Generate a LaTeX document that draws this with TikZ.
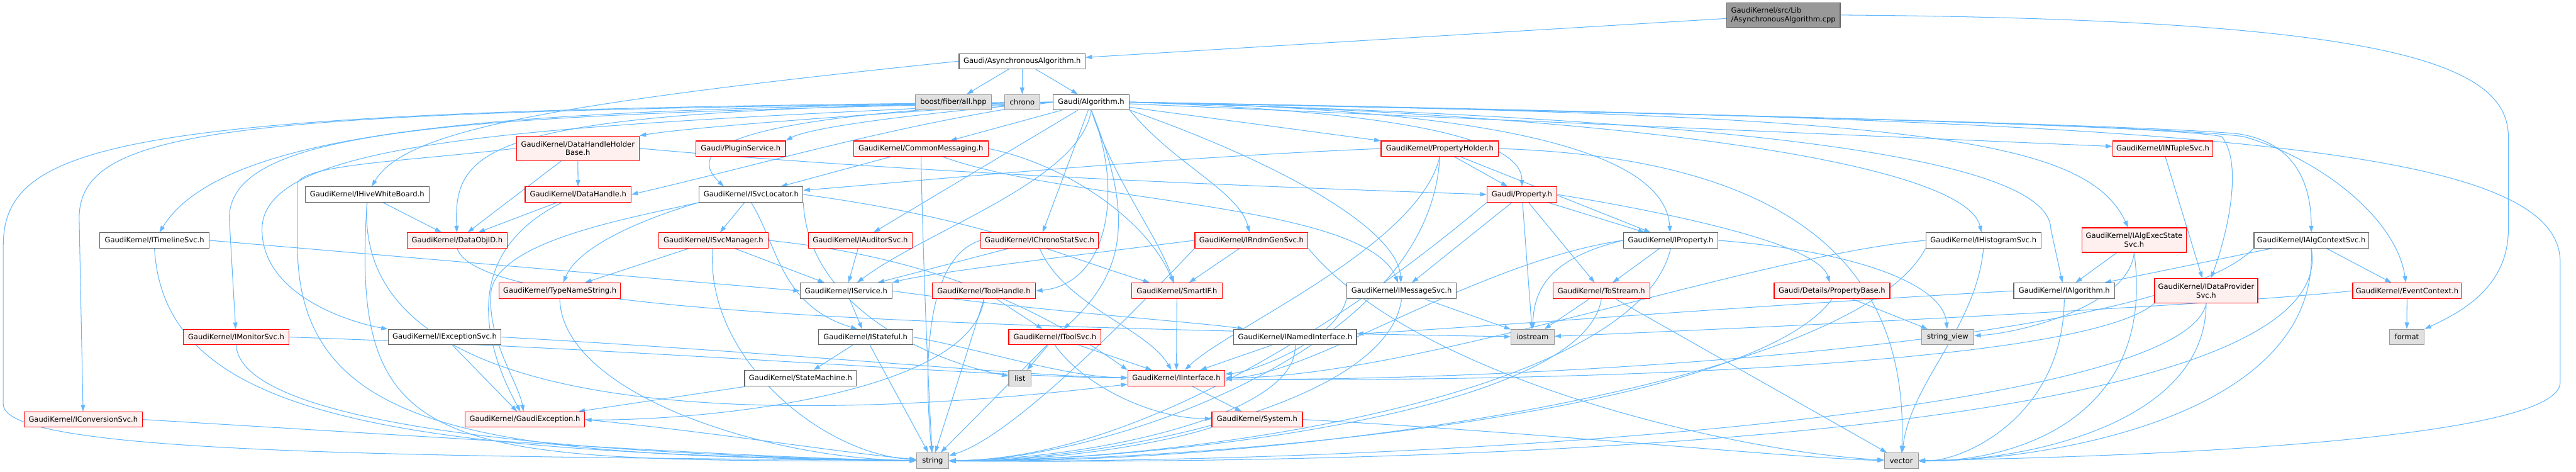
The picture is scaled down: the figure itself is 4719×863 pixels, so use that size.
\documentclass[tikz,border=0pt]{standalone}
\usepackage{fontspec}
\setmainfont{DejaVu Sans}
\usetikzlibrary{arrows.meta}
\definecolor{edgeblue}{HTML}{63B8FF}
\definecolor{redfill}{HTML}{FFF0F0}
\definecolor{greyforty}{HTML}{666666}
\definecolor{greysixty}{HTML}{999999}
\definecolor{extfill}{HTML}{E0E0E0}
\pgfdeclarelayer{edgelayer}
\pgfsetlayers{edgelayer,main}
\tikzset{
 gbox/.style={rectangle, inner sep=0pt, line width=1.3pt, align=center, text=black},
 rnode/.style={gbox, draw=red, fill=redfill},
 wnode/.style={gbox, draw=greyforty, fill=white},
 xnode/.style={gbox, draw=greysixty, fill=extfill},
 rootnode/.style={gbox, draw=greyforty, fill=greysixty, align=left},
 edg/.style={draw=edgeblue, line width=1.2pt, -{Triangle[length=12pt,width=8pt]}},
}
\newcommand\gnd[6]{\node[#1, minimum width=#2pt, minimum height=#3pt] (#4) at (#5) {#6};}
\begin{document}
\begin{tikzpicture}[x=1pt, y=1pt, font=\fontsize{13.3}{16}\selectfont]
\useasboundingbox (0,0) rectangle (4719,-863);
\gnd{rootnode}{208}{45}{cpp}{3267,-27.5}{GaudiKernel/src/Lib\\/AsynchronousAlgorithm.cpp}
\gnd{wnode}{231}{28}{aah}{1872.5,-112}{Gaudi/AsynchronousAlgorithm.h}
\gnd{xnode}{139}{28}{boost}{1746.5,-187}{boost/fiber/all.hpp}
\gnd{xnode}{65}{28}{chrono}{1872.5,-187}{chrono}
\gnd{wnode}{140}{28}{alg}{1999,-187}{Gaudi/Algorithm.h}
\gnd{rnode}{225}{45}{dhhb}{1058.5,-271.5}{GaudiKernel/DataHandleHolder\\Base.h}
\gnd{rnode}{164}{28}{plugin}{1357,-272}{Gaudi/PluginService.h}
\gnd{rnode}{246}{28}{cmsg}{1687,-272}{GaudiKernel/CommonMessaging.h}
\gnd{rnode}{215}{28}{pholder}{2637.5,-272}{GaudiKernel/PropertyHolder.h}
\gnd{rnode}{184}{28}{ntuple}{3962,-272}{GaudiKernel/INTupleSvc.h}
\gnd{wnode}{227}{28}{hwb}{672.5,-356}{GaudiKernel/IHiveWhiteBoard.h}
\gnd{rnode}{194}{28}{dhandle}{1059,-356}{GaudiKernel/DataHandle.h}
\gnd{wnode}{190}{28}{svcloc}{1376,-356}{GaudiKernel/ISvcLocator.h}
\gnd{rnode}{128}{28}{prop}{2788,-356}{Gaudi/Property.h}
\gnd{wnode}{200}{28}{tline}{283,-440}{GaudiKernel/ITimelineSvc.h}
\gnd{rnode}{183}{28}{doid}{837.5,-440}{GaudiKernel/DataObjID.h}
\gnd{rnode}{200}{28}{smgr}{1307,-440}{GaudiKernel/ISvcManager.h}
\gnd{rnode}{190}{28}{aud}{1576,-440}{GaudiKernel/IAuditorSvc.h}
\gnd{rnode}{215}{28}{chs}{1904.5,-440}{GaudiKernel/IChronoStatSvc.h}
\gnd{rnode}{207}{28}{rndm}{2292.5,-440}{GaudiKernel/IRndmGenSvc.h}
\gnd{wnode}{173}{28}{iprop}{3060.5,-440}{GaudiKernel/IProperty.h}
\gnd{wnode}{211}{28}{hist}{3633.5,-440}{GaudiKernel/IHistogramSvc.h}
\gnd{rnode}{191}{45}{aes}{3909.5,-439.5}{GaudiKernel/IAlgExecState\\Svc.h}
\gnd{wnode}{210}{28}{actx}{4234,-440}{GaudiKernel/IAlgContextSvc.h}
\gnd{rnode}{223}{29}{tns}{1025.5,-532.5}{GaudiKernel/TypeNameString.h}
\gnd{wnode}{168}{29}{isvc}{1550,-532.5}{GaudiKernel/IService.h}
\gnd{rnode}{189}{29}{thandle}{1802.5,-532.5}{GaudiKernel/ToolHandle.h}
\gnd{rnode}{166}{29}{sif}{2156,-532.5}{GaudiKernel/SmartIF.h}
\gnd{wnode}{201}{29}{msvc}{2567.5,-532.5}{GaudiKernel/IMessageSvc.h}
\gnd{rnode}{177}{29}{tostr}{2933.5,-532.5}{GaudiKernel/ToStream.h}
\gnd{rnode}{212}{29}{pbase}{3356,-532.5}{Gaudi/Details/PropertyBase.h}
\gnd{wnode}{185}{29}{ialg}{3781.5,-532.5}{GaudiKernel/IAlgorithm.h}
\gnd{rnode}{189}{45}{dps}{4041.5,-532.5}{GaudiKernel/IDataProvider\\Svc.h}
\gnd{rnode}{199}{29}{evctx}{4409.5,-532.5}{GaudiKernel/EventContext.h}
\gnd{rnode}{193}{28}{mon}{432.5,-617}{GaudiKernel/IMonitorSvc.h}
\gnd{wnode}{207}{28}{exsvc}{814.5,-617}{GaudiKernel/IExceptionSvc.h}
\gnd{wnode}{173}{28}{istf}{1585.5,-617}{GaudiKernel/IStateful.h}
\gnd{rnode}{169}{28}{tsvc}{1932.5,-617}{GaudiKernel/IToolSvc.h}
\gnd{wnode}{225}{28}{nif}{2372.5,-617}{GaudiKernel/INamedInterface.h}
\gnd{xnode}{79}{28}{iostr}{2807.5,-617}{iostream}
\gnd{xnode}{96}{28}{strv}{3568,-617}{string\_view}
\gnd{xnode}{64}{28}{fmt}{4409,-617}{format}
\gnd{wnode}{205}{29}{sm}{1466.5,-692.5}{GaudiKernel/StateMachine.h}
\gnd{xnode}{41}{29}{list}{1868.5,-692.5}{list}
\gnd{rnode}{178}{29}{iif}{2155,-692.5}{GaudiKernel/IInterface.h}
\gnd{rnode}{217}{28}{conv}{152.5,-768}{GaudiKernel/IConversionSvc.h}
\gnd{rnode}{219}{28}{gexc}{961.5,-768}{GaudiKernel/GaudiException.h}
\gnd{rnode}{166}{28}{sys}{2303,-768}{GaudiKernel/System.h}
\gnd{xnode}{59}{29}{str}{1708.5,-843.5}{string}
\gnd{xnode}{62}{29}{vec}{3483,-843.5}{vector}

\begin{pgfonlayer}{edgelayer}
% root
\draw[edg] (cpp) -- (aah);
\draw[edg] (cpp.east) .. controls (4350,-35) and (4595,-110) .. (4595,-250) -- (4595,-420) .. controls (4595,-530) and (4500,-575) .. (fmt.north east);
% asynchronous algorithm header
\draw[edg] (aah) -- (boost);
\draw[edg] (aah) -- (chrono);
\draw[edg] (aah) -- (alg);
\draw[edg] (aah.west) .. controls (1000,-190) and (740,-240) .. (hwb);
% Algorithm.h fan, left side
\draw[edg] (alg.west) .. controls (1500,-215) and (1250,-235) .. (dhhb.north east);
\draw[edg] (alg.west) .. controls (1650,-210) and (1480,-235) .. (plugin.north east);
\draw[edg] (alg) -- (cmsg);
\draw[edg] (alg.west) .. controls (1650,-225) and (1400,-300) .. (dhandle.east);
\draw[edg] (alg.west) .. controls (1400,-210) and (1240,-260) .. ([xshift=-50pt]svcloc.north);
\draw[edg] (alg.west) .. controls (900,-200) and (830,-260) .. (doid);
\draw[edg] (alg.west) .. controls (1000,-200) and (420,-220) .. (tline);
\draw[edg] (alg.west) .. controls (850,-210) and (420,-230) .. (420,-400) -- (mon);
\draw[edg] (alg.west) .. controls (1000,-230) and (480,-250) .. (480,-420) .. controls (480,-540) and (640,-590) .. (exsvc.north west);
\draw[edg] (alg.west) .. controls (450,-205) and (145,-225) .. (145,-400) -- (conv);
\draw[edg] (alg.west) .. controls (250,-200) and (6,-250) .. (6,-450) -- (6,-740) .. controls (6,-830) and (700,-835) .. (str);
\draw[edg] (alg) -- (aud);
\draw[edg] (alg) -- (chs);
\draw[edg] (alg.south) .. controls (1980,-330) and (1700,-420) .. (isvc);
\draw[edg] (alg.south) .. controls (2060,-350) and (2030,-520) .. (thandle.east);
\draw[edg] (alg.south) .. controls (2080,-400) and (2060,-500) .. (tsvc);
\draw[edg] (alg.south) .. controls (2040,-330) and (2120,-430) .. (sif);
% Algorithm.h fan, right side
\draw[edg] (alg.south east) .. controls (2150,-300) and (2270,-350) .. (rndm);
\draw[edg] (alg.south east) .. controls (2350,-300) and (2560,-420) .. (msvc);
\draw[edg] (alg) -- (pholder);
\draw[edg] (alg) -- (ntuple);
\draw[edg] (alg.east) .. controls (2600,-205) and (2788,-260) .. (prop);
\draw[edg] (alg.east) .. controls (2800,-200) and (3050,-290) .. (iprop);
\draw[edg] (alg.east) .. controls (3000,-210) and (3600,-300) .. (hist);
\draw[edg] (alg.east) .. controls (3500,-210) and (3820,-250) .. (aes);
\draw[edg] (alg.east) .. controls (3300,-220) and (3755,-300) .. (3757,-420) -- (ialg);
\draw[edg] (alg.east) .. controls (3500,-215) and (4000,-235) .. (4070,-250) .. controls (4110,-300) and (4080,-430) .. (dps);
\draw[edg] (alg.east) .. controls (3500,-215) and (4000,-235) .. (4100,-245) .. controls (4200,-260) and (4234,-330) .. (actx);
\draw[edg] (alg.east) .. controls (3500,-215) and (4000,-235) .. (4110,-250) .. controls (4250,-290) and (4390,-400) .. (evctx);
\draw[edg] (alg.east) .. controls (4000,-220) and (4690,-260) .. (4690,-480) -- (4690,-700) .. controls (4690,-800) and (4000,-835) .. (vec);
% CommonMessaging
\draw[edg] (cmsg) -- (svcloc);
\draw[edg] (cmsg) .. controls (1690,-450) and (1700,-700) .. (str);
\draw[edg] (cmsg) .. controls (1950,-370) and (2500,-370) .. (msvc);
\draw[edg] (cmsg.east) .. controls (1950,-300) and (2100,-400) .. (sif);
% DataHandleHolderBase
\draw[edg] (dhhb) -- (dhandle);
\draw[edg] (dhhb) -- (doid);
\draw[edg] (dhhb.east) .. controls (1700,-320) and (2400,-345) .. (prop.west);
\draw[edg] (dhhb.west) .. controls (750,-295) and (560,-300) .. (545,-335) -- (545,-450) .. controls (545,-800) and (900,-835) .. (str);
% IHiveWhiteBoard
\draw[edg] (hwb) -- (doid);
\draw[edg] (hwb.south) .. controls (640,-840) and (800,-845) .. (str);
\draw[edg] (hwb.south) .. controls (640,-820) and (1600,-760) .. (iif);
% DataHandle
\draw[edg] (dhandle) -- (doid);
\draw[edg] (dhandle) .. controls (850,-460) and (880,-620) .. (gexc);
% ISvcLocator
\draw[edg] (svcloc) -- (smgr);
\draw[edg] (svcloc.south west) .. controls (1180,-400) and (1060,-450) .. (tns);
\draw[edg] (svcloc.south west) .. controls (1150,-400) and (920,-440) .. (900,-530) .. controls (890,-620) and (950,-700) .. (gexc);
\draw[edg] (svcloc.south) .. controls (1425,-450) and (1430,-560) .. ([xshift=-15pt]istf.north);
\draw[edg] (svcloc.south east) .. controls (1480,-560) and (1700,-660) .. (list);
\draw[edg] (svcloc.east) .. controls (1800,-400) and (1950,-470) .. (sif);
% ISvcManager
\draw[edg] (smgr) -- (tns);
\draw[edg] (smgr) -- (isvc);
\draw[edg] (smgr) .. controls (1290,-650) and (1500,-830) .. (str);
\draw[edg] (smgr.east) .. controls (1700,-470) and (1900,-560) .. (iif.north west);
% services
\draw[edg] (aud) -- (isvc);
\draw[edg] (chs) -- (isvc);
\draw[edg] (chs.west) .. controls (1700,-470) and (1690,-650) .. (str);
\draw[edg] (chs.south) .. controls (1950,-560) and (2100,-600) .. (iif);
\draw[edg] (rndm) -- (sif);
\draw[edg] (rndm.west) .. controls (1950,-470) and (1700,-500) .. (isvc.north east);
\draw[edg] (rndm.south west) .. controls (2050,-600) and (1850,-800) .. (str);
\draw[edg] (rndm.south east) .. controls (2600,-700) and (3200,-830) .. (vec);
% IProperty and Property
\draw[edg] (iprop) -- (tostr);
\draw[edg] (iprop.west) .. controls (2700,-480) and (2400,-690) .. (iif);
\draw[edg] (iprop.east) .. controls (3400,-460) and (3560,-520) .. (strv);
\draw[edg] (iprop.west) .. controls (2850,-470) and (2810,-520) .. (iostr);
\draw[edg] (iprop.south) .. controls (3000,-720) and (2200,-845) .. (str);
\draw[edg] (prop.east) .. controls (3000,-380) and (3330,-440) .. (pbase);
\draw[edg] (prop) -- (iprop);
\draw[edg] (prop) -- (tostr);
\draw[edg] (prop) -- (iostr);
\draw[edg] (prop) -- (msvc);
\draw[edg] (prop.south west) .. controls (2500,-560) and (2100,-840) .. (str);
% PropertyHolder
\draw[edg] (pholder) -- (prop);
\draw[edg] (pholder) -- (iprop);
\draw[edg] (pholder.west) .. controls (2100,-290) and (1700,-330) .. (svcloc);
\draw[edg] (pholder.south) .. controls (2600,-450) and (2250,-600) .. (iif);
\draw[edg] (pholder.south) .. controls (2620,-650) and (2000,-845) .. (str);
\draw[edg] (pholder.east) .. controls (3300,-290) and (3497,-500) .. (vec);
% left column
\draw[edg] (tline.east) -- (isvc.west);
\draw[edg] (tline.south) .. controls (300,-760) and (700,-830) .. (str);
\draw[edg] (mon.east) .. controls (1200,-640) and (1800,-690) .. (iif);
\draw[edg] (mon.south) .. controls (440,-760) and (900,-830) .. (str);
\draw[edg] (exsvc) -- (gexc);
\draw[edg] (exsvc.east) .. controls (1500,-650) and (1900,-690) .. (iif);
\draw[edg] (conv.east) .. controls (800,-800) and (1400,-840) .. (str);
\draw[edg] (doid.south) .. controls (870,-560) and (1500,-595) .. (iostr);
\draw[edg] (tns.south) .. controls (1030,-720) and (1400,-840) .. (str);
% IService and tools
\draw[edg] (isvc) -- (istf);
\draw[edg] (isvc.east) .. controls (1900,-570) and (2200,-590) .. (nif);
\draw[edg] (thandle) -- (tsvc);
\draw[edg] (thandle.south) -- (str);
\draw[edg] (thandle.south) .. controls (1780,-720) and (1300,-770) .. (gexc);
\draw[edg] (sif) -- (iif);
\draw[edg] (msvc) -- (iostr);
\draw[edg] (msvc.south west) .. controls (2450,-620) and (2300,-680) .. (iif);
\draw[edg] (msvc.south) .. controls (2540,-750) and (2000,-845) .. (str);
\draw[edg] (tostr) -- (iostr);
\draw[edg] (tostr.south) .. controls (2900,-760) and (2100,-845) .. (str);
\draw[edg] (tostr) -- (vec);
\draw[edg] (pbase) -- (strv);
\draw[edg] (pbase.south) .. controls (3200,-760) and (2200,-845) .. (str);
% right column
\draw[edg] (ialg.west) .. controls (3200,-560) and (2700,-600) .. (nif);
\draw[edg] (ialg.south) .. controls (3780,-760) and (3600,-845) .. (vec);
\draw[edg] (aes) -- (ialg);
\draw[edg] (aes.south) .. controls (3900,-560) and (3700,-610) .. (strv);
\draw[edg] (aes.south) .. controls (3950,-760) and (3700,-845) .. (vec);
\draw[edg] (actx) -- (ialg);
\draw[edg] (actx) -- (evctx);
\draw[edg] (actx.south west) .. controls (3950,-640) and (2700,-700) .. (iif);
\draw[edg] (actx.south) .. controls (4250,-780) and (3700,-845) .. (vec);
\draw[edg] (actx.south) .. controls (4300,-820) and (2500,-850) .. (str);
\draw[edg] (dps.south west) .. controls (3800,-680) and (2700,-700) .. (iif);
\draw[edg] (dps.south) .. controls (4000,-760) and (2600,-850) .. (str);
\draw[edg] (dps.south) .. controls (4040,-780) and (3700,-845) .. (vec);
\draw[edg] (evctx) -- (fmt);
\draw[edg] (evctx.west) .. controls (4000,-565) and (3000,-610) .. (iostr);
\draw[edg] (hist.west) .. controls (3200,-470) and (2600,-690) .. (iif);
\draw[edg] (hist.south) .. controls (3620,-600) and (3500,-700) .. (vec);
\draw[edg] (hist.south west) .. controls (3400,-700) and (2400,-850) .. (str);
\draw[edg] (ntuple) -- (dps);
% lower levels
\draw[edg] (istf) -- (sm);
\draw[edg] (istf.east) .. controls (1800,-640) and (1950,-690) .. (iif);
\draw[edg] (istf) -- (str);
\draw[edg] (sm) -- (gexc);
\draw[edg] (tsvc) -- (list);
\draw[edg] (tsvc) -- (iif);
\draw[edg] (tsvc) -- (str);
\draw[edg] (tsvc.south) .. controls (1980,-700) and (2100,-765) .. (sys);
\draw[edg] (nif) -- (iif);
\draw[edg] (nif.south) .. controls (2380,-760) and (2000,-840) .. (str);
\draw[edg] (iif) -- (sys);
\draw[edg] (gexc.east) .. controls (1300,-790) and (1550,-830) .. (str);
\draw[edg] (sys.south west) .. controls (2100,-820) and (1900,-845) .. (str);
\draw[edg] (sys.east) .. controls (2800,-790) and (3300,-840) .. (vec);
\end{pgfonlayer}
\end{tikzpicture}
\end{document}
